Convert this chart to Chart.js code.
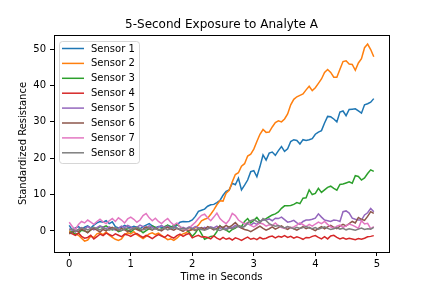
<!DOCTYPE html>
<html>
<head>
    <title>5-Second Exposure to Analyte A</title>
    <script src="https://cdn.jsdelivr.net/npm/chart.js"></script>
    <style>
        body { margin: 0; background: #fff; }
        canvas { display: block; }
    </style>
</head>
<body>
    <canvas id="sensorChart" width="432" height="288"></canvas>

    <script>
        // sampled every 0.05 s, 0 .. 4.95 s
        var dt = 0.05;
        var chartTitle = '5-Second Exposure to Analyte A';
        var sensorNames = ['Sensor 1', 'Sensor 2', 'Sensor 3', 'Sensor 4', 'Sensor 5', 'Sensor 6', 'Sensor 7', 'Sensor 8'];
        var xTicks = [0, 1, 2, 3, 4, 5];
        var yTicks = [0, 10, 20, 30, 40, 50];

        var sensor1 = [1.5, 0.2, 0.8, 1.2, 0.5, 1.0, 1.4, 0.8, 1.6, 2.2,
            2.6, 2.4, 2.8, 2.0, 2.5, 1.2, 0.8, 1.0, 1.5, 1.1,
            0.9, 1.3, 1.0, 0.6, 1.2, 1.6, 2.0, 1.4, 0.9, 1.2,
            1.0, 0.7, 1.5, 1.2, 0.8, 1.6, 2.4, 2.6, 2.5, 2.6,
            3.0, 4.0, 5.4, 5.7, 6.0, 6.8, 7.2, 7.3, 7.8, 8.4,
            9.8, 10.9, 11.3, 13.1, 12.7, 14.5, 11.3, 12.6, 14.0, 16.3,
            16.6, 14.9, 17.7, 20.9, 19.5, 21.4, 21.7, 20.8, 22.1, 23.2,
            21.9, 22.6, 24.6, 25.1, 24.9, 23.9, 25.1, 24.9, 25.1, 25.4,
            26.6, 27.2, 27.6, 29.7, 31.5, 31.4, 30.8, 30.0, 32.7, 33.0,
            31.7, 33.4, 33.5, 33.6, 33.0, 32.4, 34.7, 35.0, 35.4, 36.4];

        var sensor2 = [0.0, -0.5, -0.8, -1.2, -2.0, -2.8, -2.5, -1.5, -1.8, -0.8,
            -0.5, -1.0, -0.3, -1.2, -1.8, -2.3, -2.6, -2.2, -1.0, -0.5,
            -0.8, -0.2, -1.0, -1.6, -2.1, -1.5, -0.8, -0.5, -1.0, -0.6,
            -1.2, -1.8, -2.4, -2.2, -2.6, -2.0, -1.2, -0.8, -0.5, 0.2,
            0.3, 0.9, 1.6, 2.8, 3.2, 3.5, 4.6, 5.8, 7.2, 8.3,
            8.2, 10.4, 11.2, 13.5, 15.5, 16.0, 17.8, 18.5, 20.6, 21.1,
            22.5, 24.6, 26.6, 27.9, 27.1, 27.2, 28.6, 29.8, 30.3, 30.0,
            30.8, 32.2, 34.7, 36.2, 36.9, 37.3, 37.7, 38.8, 39.8, 38.6,
            39.4, 40.6, 41.8, 43.6, 44.4, 43.6, 42.3, 42.3, 44.5, 46.6,
            46.8, 45.9, 45.8, 44.2, 46.2, 47.4, 50.4, 51.4, 49.9, 47.9];

        var sensor3 = [-0.5, -0.2, -1.0, -0.6, 0.2, 0.0, -0.4, 0.3, 0.8, 0.6,
            1.2, 1.0, 1.4, 0.8, 0.3, 0.5, -0.2, 0.1, 0.6, 0.2,
            -0.3, 0.4, 0.9, 0.2, -0.5, 0.1, 0.6, 1.4, 1.0, 0.3,
            0.5, 1.2, 1.6, 1.0, 1.5, 1.8, 1.2, 0.5, 0.3, -0.4,
            -1.5, -0.6, 0.7, -0.8, -2.3, -1.9, -1.5, -1.4, -0.2, 1.4,
            0.6, 0.2, -0.3, 0.4, 0.8, 1.4, 1.2, 2.6, 3.4, 2.2,
            2.9, 3.7, 2.6, 3.0, 3.4, 3.9, 4.4, 4.7, 5.2, 6.2,
            6.9, 6.9, 7.0, 7.3, 7.8, 7.5, 9.0, 9.1, 11.3, 10.0,
            10.3, 11.7, 10.6, 11.3, 12.0, 12.3, 11.7, 11.2, 12.8, 12.9,
            13.2, 13.5, 13.1, 15.2, 15.0, 14.0, 14.6, 15.8, 16.8, 16.4];

        var sensor4 = [-0.5, -0.8, -1.2, -0.6, -1.5, -2.0, -1.8, -1.2, -2.2, -1.6,
            -0.9, -1.3, -0.6, -1.0, -1.4, -0.8, -1.2, -1.6, -0.9, -1.1,
            -1.5, -1.0, -0.7, -1.3, -1.8, -1.2, -1.6, -2.1, -1.5, -1.0,
            -1.4, -1.8, -1.1, -1.6, -2.0, -1.3, -0.9, -1.5, -1.0, -0.7,
            -1.9, -1.5, -1.2, -1.7, -1.6, -1.8, -2.2, -1.4, -2.0, -2.4,
            -1.8, -2.3, -2.0, -2.5, -1.9, -2.2, -2.6, -2.1, -1.7, -2.3,
            -2.0, -2.4, -1.8, -2.2, -2.0, -1.6, -1.4, -1.9, -1.5, -1.7,
            -1.3, -1.8, -1.5, -2.0, -1.6, -1.9, -2.3, -1.8, -1.9, -1.5,
            -1.3, -1.8, -2.2, -1.6, -2.2, -1.4, -1.2, -1.8, -2.2, -1.9,
            -2.3, -2.0, -2.2, -2.4, -2.1, -2.3, -2.0, -1.6, -1.5, -1.3];

        var sensor5 = [0.6, 0.2, -0.3, 0.4, 0.9, 0.5, 1.2, 0.8, 0.3, 0.9,
            1.4, 1.0, 0.6, 1.1, 0.7, 0.2, 0.8, 1.3, 0.9, 1.5,
            1.1, 0.6, 1.0, 1.6, 1.2, 0.8, 1.4, 1.0, 0.5, 1.1,
            1.5, 0.9, 1.3, 0.7, 1.2, 0.8, 0.4, 1.0, 0.6, 1.1,
            0.7, 1.2, 0.9, 0.4, 1.0, 0.6, 1.1, 0.8, 1.3, 0.7,
            1.0, 0.6, 1.2, 0.9, 1.5, 1.1, 0.8, 1.4, 2.0, 1.6,
            2.2, 1.8, 2.6, 3.1, 3.0, 3.3, 2.8, 3.5, 3.4, 3.8,
            3.1, 2.4, 2.6, 2.9, 2.2, 1.8, 2.6, 3.0, 3.0, 3.2,
            3.5, 4.7, 3.8, 3.0, 2.8, 2.6, 3.0, 2.9, 2.6, 5.3,
            5.5, 4.9, 3.5, 3.2, 3.0, 3.0, 4.4, 5.0, 6.2, 5.3];

        var sensor6 = [-0.8, -0.4, 0.2, -0.2, 0.5, 0.1, -0.5, 0.3, 0.7, 0.2,
            -0.3, 0.4, 0.0, 0.6, 1.0, 0.5, 0.1, 0.7, 0.3, -0.2,
            0.3, 0.8, 0.4, 0.0, 0.5, 1.1, 0.6, 0.2, 0.8, 0.4,
            0.0, 0.6, 1.0, 0.5, 0.2, 0.7, 0.3, -0.1, 0.4, 0.0,
            0.5, 0.1, 0.6, 0.9, 0.4, 1.2, 0.8, 0.3, 0.7, 1.3,
            0.9, 1.5, 1.0, 1.6, 2.3, 1.4, 0.8, 0.4, 0.2, -0.2,
            0.3, 0.8, 1.3, 0.7, 0.2, 0.6, 1.1, 0.5, 0.9, 1.4,
            0.8, 0.4, 1.0, 0.6, 0.2, 0.7, 1.2, 0.6, 1.0, 0.5,
            0.1, 0.7, 1.2, 0.6, 1.1, 1.5, 1.0, 0.6, 1.3, 1.8,
            1.4, 2.0, 2.6, 2.2, 3.7, 3.2, 2.9, 4.0, 5.3, 4.8];

        var sensor7 = [2.4, 1.2, 0.4, 1.8, 2.6, 2.2, 3.0, 2.4, 1.8, 2.6,
            3.2, 2.5, 2.0, 2.8, 3.4, 2.6, 3.6, 3.0, 2.2, 3.3,
            3.8, 3.2, 2.4, 3.0, 4.2, 4.8, 3.6, 2.8, 3.5, 2.6,
            2.0, 2.8, 3.4, 2.4, 1.6, 2.2, 1.2, 0.6, 0.2, 0.8,
            1.6, 2.4, 3.4, 4.3, 4.6, 3.6, 2.8, 3.8, 4.9, 3.4,
            2.6, 2.0, 3.0, 4.8, 4.2, 3.0, 2.4, 1.9, 2.3, 1.5,
            1.1, 1.6, 2.2, 1.9, 1.3, 1.7, 1.5, 2.2, 1.4, 0.9,
            0.7, 1.2, 0.8, 1.1, 1.6, 2.2, 1.7, 1.2, 1.8, 1.3,
            1.9, 2.4, 2.0, 2.6, 1.8, 1.1, 0.7, 1.3, 1.6, 1.0,
            1.4, 1.9, 1.6, 1.2, 0.7, 2.8, 1.9, 2.1, 0.6, 1.2];

        var sensor8 = [0.2, 0.5, 0.0, 0.4, 0.8, 0.6, 0.3, 0.7, 1.0, 0.6,
            0.3, 0.8, 0.5, 0.2, 0.6, 0.9, 0.4, 0.1, 0.5, 0.8,
            0.4, 0.7, 1.0, 0.6, 0.3, 0.5, 0.9, 0.4, 0.7, 0.2,
            0.5, 0.8, 0.3, 0.6, 1.0, 0.7, 0.4, 0.8, 0.5, 0.9,
            0.6, 0.3, 0.7, 0.4, 0.2, 0.5, 0.9, 0.6, 0.3, 0.1,
            0.5, 0.3, 0.8, 0.6, 1.0, 1.4, 1.0, 1.2, 2.2, 2.8,
            3.1, 2.6, 2.2, 3.4, 2.8, 2.0, 1.6, 1.3, 1.5, 1.1,
            0.8, 1.2, 0.9, 0.6, 1.0, 0.7, 0.9, 1.2, 0.8, 0.6,
            0.9, 0.5, 0.8, 1.1, 0.7, 0.4, 0.6, 0.9, 0.5, 0.7,
            0.3, 0.6, 0.4, 0.2, 0.5, 0.8, 0.4, 0.6, 0.5, 1.0];

        var series = [sensor1, sensor2, sensor3, sensor4, sensor5, sensor6, sensor7, sensor8];
        var colors = ['#1f77b4', '#ff7f0e', '#2ca02c', '#d62728', '#9467bd', '#8c564b', '#e377c2', '#7f7f7f'];

        var datasets = series.map(function (vals, k) {
            return {
                label: sensorNames[k],
                data: vals.map(function (v, i) { return { x: i * dt, y: v }; }),
                borderColor: colors[k],
                backgroundColor: colors[k],
                borderWidth: 1.5,
                pointRadius: 0,
                tension: 0,
                fill: false,
                order: series.length - k   // later sensors on top, like matplotlib
            };
        });

        var FONT = 'DejaVu Sans';

        // title centred on the axes, full frame round the plot, legend upper left
        var framePlugin = {
            id: 'frame',
            afterDraw: function (chart) {
                var c = chart.ctx, a = chart.chartArea;
                c.save();

                c.font = '12px "' + FONT + '"';
                c.fillStyle = '#000';
                c.textAlign = 'center';
                c.textBaseline = 'middle';
                c.fillText(chartTitle, (a.left + a.right) / 2, 24.5);

                c.strokeStyle = '#000';
                c.lineWidth = 1;
                c.strokeRect(Math.round(a.left) + 0.5, Math.round(a.top) + 0.5,
                    Math.round(a.right - a.left), Math.round(a.bottom - a.top));

                // legend box
                var bx = a.left + 5, by = a.top + 6, bw = 80, bh = 122;
                c.beginPath();
                c.roundRect(bx + 0.5, by + 0.5, bw, bh, 3);
                c.fillStyle = 'rgba(255,255,255,0.8)';
                c.fill();
                c.strokeStyle = 'rgba(204,204,204,0.8)';
                c.stroke();

                c.font = '10px "' + FONT + '"';
                c.textBaseline = 'middle';
                c.textAlign = 'left';
                chart.data.datasets.forEach(function (ds, i) {
                    var y = by + 7.5 + i * 14.9;
                    c.beginPath();
                    c.strokeStyle = ds.borderColor;
                    c.lineWidth = 1.5;
                    c.moveTo(bx + 3, y);
                    c.lineTo(bx + 25, y);
                    c.stroke();
                    c.fillStyle = '#000';
                    c.fillText(ds.label, bx + 32, y + 0.5);
                });
                c.restore();
            }
        };

        var ctx = document.getElementById('sensorChart').getContext('2d');
        var chart = new Chart(ctx, {
            type: 'line',
            data: { datasets: datasets },
            options: {
                responsive: false,
                animation: false,
                devicePixelRatio: 1,
                layout: { padding: { left: 0, right: 43, top: 35, bottom: 0 } },
                plugins: {
                    legend: { display: false },
                    tooltip: { enabled: false },
                    title: { display: false }
                },
                scales: {
                    x: {
                        type: 'linear',
                        min: -0.2475,
                        max: 5.1975,
                        afterBuildTicks: function (s) { s.ticks = xTicks.map(function (v) { return { value: v }; }); },
                        afterFit: function (s) { s.height = 36; },
                        ticks: {
                            color: '#000',
                            font: { family: FONT, size: 10 },
                            padding: 2,
                            maxRotation: 0,
                            callback: function (v) { return String(v); }
                        },
                        grid: { drawOnChartArea: false, drawTicks: true, tickLength: 4, tickColor: '#000', color: '#000' },
                        border: { display: true, color: '#000', width: 1 },
                        title: {
                            display: true,
                            text: 'Time in Seconds',
                            color: '#000',
                            font: { family: FONT, size: 10 },
                            padding: { top: 0, bottom: 5 }
                        }
                    },
                    y: {
                        type: 'linear',
                        min: -5.8,
                        max: 53.9,
                        afterBuildTicks: function (s) { s.ticks = yTicks.map(function (v) { return { value: v }; }); },
                        afterFit: function (s) { s.width = 54; },
                        ticks: {
                            color: '#000',
                            font: { family: FONT, size: 10 },
                            padding: 4,
                            callback: function (v) { return String(v); }
                        },
                        grid: { drawOnChartArea: false, drawTicks: true, tickLength: 4, tickColor: '#000', color: '#000' },
                        border: { display: true, color: '#000', width: 1 },
                        title: {
                            display: true,
                            text: 'Standardized Resistance',
                            color: '#000',
                            font: { family: FONT, size: 10 },
                            padding: { top: 17, bottom: 0 }
                        }
                    }
                }
            },
            plugins: [framePlugin]
        });
    </script>
</body>
</html>
